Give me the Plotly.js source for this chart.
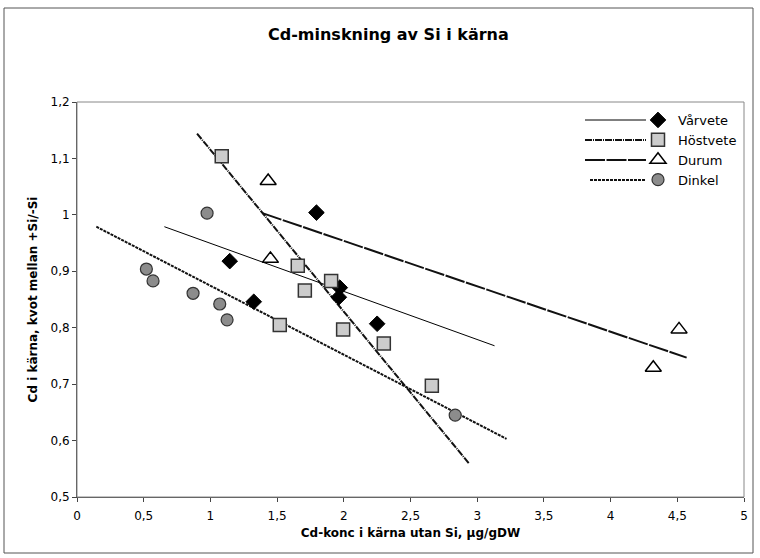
<!DOCTYPE html>
<html>
<head>
<meta charset="utf-8">
<script src="https://cdn.plot.ly/plotly-3.0.1.min.js"></script>
<style>html,body{margin:0;padding:0;background:#fff;}#chart{width:760px;height:558px;}</style>
</head>
<body>
<div id="chart"></div>
<script>
// Data
const seriesNames = ['Vårvete', 'Höstvete', 'Durum', 'Dinkel'];

const varveteX = [1.795, 1.145, 1.325, 1.970, 1.963, 2.250];
const varveteY = [1.004, 0.918, 0.846, 0.871, 0.854, 0.807];

const hostveteX = [1.085, 1.655, 1.708, 1.905, 1.520, 1.995, 2.300, 2.660];
const hostveteY = [1.104, 0.910, 0.866, 0.883, 0.805, 0.797, 0.772, 0.697];

const durumX = [1.433, 1.450, 4.513, 4.320];
const durumY = [1.060, 0.922, 0.797, 0.729];

const dinkelX = [0.975, 0.520, 0.570, 0.870, 1.070, 1.125, 2.835];
const dinkelY = [1.003, 0.904, 0.883, 0.861, 0.842, 0.814, 0.645];

// Trend line end points
const varveteTrendX = [0.655, 3.13];
const varveteTrendY = [0.979, 0.768];
const hostveteTrendX = [0.90, 2.94];
const hostveteTrendY = [1.144, 0.559];
const durumTrendX = [1.39, 4.57];
const durumTrendY = [1.003, 0.747];
const dinkelTrendX = [0.145, 3.22];
const dinkelTrendY = [0.979, 0.603];

const xTickVals = [0, 0.5, 1, 1.5, 2, 2.5, 3, 3.5, 4, 4.5, 5];
const xTickText = ['0', '0,5', '1', '1,5', '2', '2,5', '3', '3,5', '4', '4,5', '5'];
const yTickVals = [0.5, 0.6, 0.7, 0.8, 0.9, 1.0, 1.1, 1.2];
const yTickText = ['0,5', '0,6', '0,7', '0,8', '0,9', '1', '1,1', '1,2'];

const FONT = 'Verdana, "DejaVu Sans", sans-serif';

const lineStyles = [
  {color: '#000', width: 1, dash: 'solid'},
  {color: '#111', width: 2, dash: '7px,1px,1px,1px'},
  {color: '#111', width: 2, dash: '20px,1.5px'},
  {color: '#111', width: 2, dash: '3px,1px'}
];

const trendXs = [varveteTrendX, hostveteTrendX, durumTrendX, dinkelTrendX];
const trendYs = [varveteTrendY, hostveteTrendY, durumTrendY, dinkelTrendY];

const traces = [];
for (let i = 0; i < 4; i++) {
  traces.push({
    type: 'scatter', mode: 'lines', x: trendXs[i], y: trendYs[i],
    line: lineStyles[i], showlegend: false, hoverinfo: 'skip'
  });
}

traces.push({
  type: 'scatter', mode: 'markers', name: seriesNames[0], x: varveteX, y: varveteY,
  marker: {symbol: 'diamond', size: 12, color: '#000', line: {color: '#000', width: 1}}
});
traces.push({
  type: 'scatter', mode: 'markers', name: seriesNames[1], x: hostveteX, y: hostveteY,
  marker: {symbol: 'square', size: 13, color: '#cccccc', line: {color: '#333', width: 1.5}}
});
traces.push({
  type: 'scatter', mode: 'markers', name: seriesNames[2], x: durumX, y: durumY,
  marker: {symbol: 'triangle-up', size: 14, color: '#ffffff', line: {color: '#000', width: 1.5}}
});
traces.push({
  type: 'scatter', mode: 'markers', name: seriesNames[3], x: dinkelX, y: dinkelY,
  marker: {symbol: 'circle', size: 12, color: '#8c8c8c', line: {color: '#333', width: 1.2}}
});

// Plot area in pixels: left 77, right 744, top 102, bottom 497
const L = 77, R = 16, T = 102, B = 61, W = 760, H = 558;
const pw = W - L - R, ph = H - T - B;
const px = p => (p - L) / pw;
const py = p => (H - B - p) / ph;

const shapes = [
  {type: 'rect', xref: 'paper', yref: 'paper', x0: px(4), x1: px(753), y0: py(553), y1: py(8),
   line: {color: '#555', width: 1}},
  {type: 'rect', xref: 'paper', yref: 'paper', x0: 0, x1: 1, y0: 0, y1: 1,
   line: {color: '#888', width: 1}}
];
const legRows = [120, 140, 160, 180];
for (let i = 0; i < 4; i++) {
  shapes.push({type: 'line', xref: 'paper', yref: 'paper',
    x0: px(i === 3 ? 590 : 585), x1: px(646), y0: py(legRows[i]), y1: py(legRows[i]),
    line: lineStyles[i]});
}

const layout = {
  width: W, height: H,
  margin: {l: L, r: R, t: T, b: B},
  paper_bgcolor: '#fff', plot_bgcolor: '#fff',
  font: {family: FONT, size: 12, color: '#000'},
  title: {text: '<b>Cd-minskning av Si i kärna</b>', font: {family: FONT, size: 16, color: '#000'},
          x: 0.511, xref: 'container', y: 1 - 34 / H, yref: 'container', xanchor: 'center', yanchor: 'middle'},
  xaxis: {
    range: [0, 5], tickvals: xTickVals, ticktext: xTickText,
    showgrid: false, zeroline: false, showline: true, linecolor: '#444', linewidth: 1,
    ticks: 'outside', ticklen: 4, tickcolor: '#444', tickfont: {family: FONT, size: 12},
    ticklabelstandoff: 4,
    title: {text: '<b>Cd-konc i kärna utan Si, µg/gDW</b>', font: {family: FONT, size: 12}, standoff: 6}
  },
  yaxis: {
    range: [0.5, 1.2], tickvals: yTickVals, ticktext: yTickText,
    showgrid: false, zeroline: false, showline: true, linecolor: '#444', linewidth: 1,
    ticks: 'outside', ticklen: 4, tickcolor: '#444', tickfont: {family: FONT, size: 12},
    title: {text: '<b>Cd i kärna, kvot mellan +Si/-Si</b>', font: {family: FONT, size: 12}, standoff: 10}
  },
  legend: {
    x: px(638), y: py(105), xanchor: 'left', yanchor: 'top',
    bgcolor: 'rgba(0,0,0,0)', borderwidth: 0,
    font: {family: FONT, size: 13, color: '#000'},
    itemwidth: 30
  },
  shapes: shapes,
  showlegend: true
};

Plotly.newPlot('chart', traces, layout, {displayModeBar: false, staticPlot: true});
</script>
</body>
</html>
